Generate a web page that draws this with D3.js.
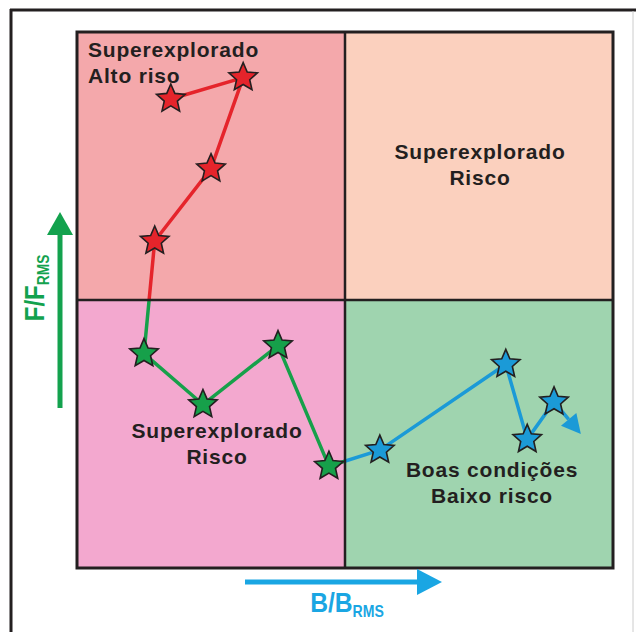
<!DOCTYPE html>
<html>
<head>
<meta charset="utf-8">
<script src="https://cdn.jsdelivr.net/npm/d3@7"></script>
<style>
  body { margin: 0; background: #fff; }
  svg { display: block; font-family: "Liberation Sans", Arial, sans-serif; }
</style>
</head>
<body>
<div id="chart"></div>
<script>
// Trajectory (B/BRMS, F/FRMS), in time order
const bRatio = [0.35, 0.62, 0.50, 0.29, 0.25, 0.47, 0.75, 0.94, 1.13, 1.60, 1.68, 1.78];
const fRatio = [1.75, 1.83, 1.49, 1.22, 0.80, 0.61, 0.83, 0.38, 0.44, 0.76, 0.48, 0.62];
// where the final arrow points to
const arrowEnd = [1.88, 0.50];

// quadrant labels
const quadLabels = [
  { q: "tl", lines: ["Superexplorado", "Alto riso"] },
  { q: "tr", lines: ["Superexplorado", "Risco"] },
  { q: "bl", lines: ["Superexplorado", "Risco"] },
  { q: "br", lines: ["Boas condições", "Baixo risco"] }
];

let w = 636, h = 632;
let svg = d3.select("#chart").append("svg").attr("width", w).attr("height", h);

// plot box
let pLeft = 77, pRight = 613, pTop = 32, pBottom = 568;
let x = d3.scaleLinear().domain([0, 2]).range([pLeft, pRight]);
let y = d3.scaleLinear().domain([0, 2]).range([pBottom, pTop]);
let xm = x(1), ym = y(1);

const ink = "#231f20";
const colors = { tl: "#e5242b", bl: "#16a04a", br: "#1b9ad7" };
const fills = { tl: "#f4a8ab", tr: "#fbd0be", bl: "#f3a8cf", br: "#9fd4af" };

// outer frame
svg.append("line").attr("x1", 11).attr("x2", 11).attr("y1", 9).attr("y2", h).attr("stroke", ink).attr("stroke-width", 3);
svg.append("line").attr("x1", 10).attr("x2", w).attr("y1", 10).attr("y2", 10).attr("stroke", ink).attr("stroke-width", 3);
svg.append("line").attr("x1", 633).attr("x2", 633).attr("y1", 11).attr("y2", h).attr("stroke", "#ccc").attr("stroke-width", 1);

// quadrants
let quads = {
  tl: [pLeft, pTop, xm - pLeft, ym - pTop],
  tr: [xm, pTop, pRight - xm, ym - pTop],
  bl: [pLeft, ym, xm - pLeft, pBottom - ym],
  br: [xm, ym, pRight - xm, pBottom - ym]
};
Object.keys(quads).forEach(k => {
  let r = quads[k];
  svg.append("rect").attr("x", r[0]).attr("y", r[1]).attr("width", r[2]).attr("height", r[3]).attr("fill", fills[k]);
});

let defs = svg.append("defs");
defs.append("clipPath").attr("id", "clip-top")
  .append("rect").attr("x", 0).attr("y", 0).attr("width", w).attr("height", ym);
defs.append("clipPath").attr("id", "clip-blx")
  .append("rect").attr("x", 0).attr("y", ym).attr("width", xm).attr("height", h);
defs.append("clipPath").attr("id", "clip-brx")
  .append("rect").attr("x", xm).attr("y", ym).attr("width", w).attr("height", h);

// quadrant label text
let labelPos = {
  tl: { x: 88, y: 57, anchor: "start" },
  tr: { x: 480, y: 159, anchor: "middle" },
  bl: { x: 217, y: 438, anchor: "middle" },
  br: { x: 492, y: 477, anchor: "middle" }
};
quadLabels.forEach(d => {
  let p = labelPos[d.q];
  let t = svg.append("text").attr("x", p.x).attr("y", p.y).attr("text-anchor", p.anchor)
    .attr("font-size", 21).attr("font-weight", "bold").attr("fill", ink).attr("letter-spacing", 0.8);
  d.lines.forEach((s, i) => {
    t.append("tspan").attr("x", p.x).attr("dy", i === 0 ? 0 : 26).text(s);
  });
});

// trajectory
let pts = bRatio.map((b, i) => [b, fRatio[i]]);
let quadOf = d => d[1] >= 1 ? "tl" : (d[0] < 1 ? "bl" : "br");
let line = d3.line().x(d => x(d[0])).y(d => y(d[1]));

// arrow end: stop the line at the base of the head
let last = pts[pts.length - 1];
let ex = x(arrowEnd[0]), ey = y(arrowEnd[1]);
let lx = x(last[0]), ly = y(last[1]);
let ang = Math.atan2(ey - ly, ex - lx);
let headLen = 19, headW = 10;
let base = [ex - headLen * Math.cos(ang), ey - headLen * Math.sin(ang)];
let full = pts.concat([[x.invert(base[0]), y.invert(base[1])]]);

let lines = svg.append("g").attr("fill", "none").attr("stroke-width", 3.5).attr("stroke-linejoin", "round");
lines.append("path").attr("d", line(full)).attr("stroke", colors.tl).attr("clip-path", "url(#clip-top)");
lines.append("path").attr("d", line(full)).attr("stroke", colors.bl).attr("clip-path", "url(#clip-blx)");
lines.append("path").attr("d", line(full)).attr("stroke", colors.br).attr("clip-path", "url(#clip-brx)");

// arrow head
let px = -Math.sin(ang), py = Math.cos(ang);
svg.append("path")
  .attr("d", `M${ex},${ey}L${base[0] + headW * px},${base[1] + headW * py}L${base[0] - headW * px},${base[1] - headW * py}Z`)
  .attr("fill", colors.br);

// grid borders
svg.append("rect").attr("x", pLeft).attr("y", pTop).attr("width", pRight - pLeft).attr("height", pBottom - pTop)
  .attr("fill", "none").attr("stroke", ink).attr("stroke-width", 3);
svg.append("line").attr("x1", xm).attr("x2", xm).attr("y1", pTop).attr("y2", pBottom).attr("stroke", ink).attr("stroke-width", 2.5);
svg.append("line").attr("x1", pLeft).attr("x2", pRight).attr("y1", ym).attr("y2", ym).attr("stroke", ink).attr("stroke-width", 2.5);

// stars: chunkier five-point star than d3.symbolStar
const fatStar = {
  draw(context, size) {
    let R = Math.sqrt(size), r = R * 0.46;
    for (let i = 0; i < 10; i++) {
      let a = -Math.PI / 2 + i * Math.PI / 5;
      let rr = i % 2 ? r : R;
      if (i === 0) context.moveTo(rr * Math.cos(a), rr * Math.sin(a));
      else context.lineTo(rr * Math.cos(a), rr * Math.sin(a));
    }
    context.closePath();
  }
};
let star = d3.symbol().type(fatStar).size(225);
svg.append("g").selectAll("path").data(pts).enter().append("path")
  .attr("d", star)
  .attr("transform", d => `translate(${x(d[0])},${y(d[1])})`)
  .attr("fill", d => colors[quadOf(d)])
  .attr("stroke", ink).attr("stroke-width", 1.6).attr("stroke-linejoin", "miter");

// Y axis arrow (green)
let green = "#13a24e";
svg.append("line").attr("x1", 60).attr("x2", 60).attr("y1", 408).attr("y2", 232).attr("stroke", green).attr("stroke-width", 5);
svg.append("path").attr("d", "M60,212L73,235L47,235Z").attr("fill", green);
let yl = svg.append("text").attr("transform", "translate(44,288) rotate(-90) scale(0.86,1)").attr("text-anchor", "middle")
  .attr("font-size", 28).attr("font-weight", "bold").attr("fill", green);
yl.append("tspan").text("F/F");
yl.append("tspan").attr("font-size", 16).attr("dy", 5).text("RMS");

// X axis arrow (blue)
let blue = "#1aa6e3";
svg.append("line").attr("x1", 245).attr("x2", 420).attr("y1", 582).attr("y2", 582).attr("stroke", blue).attr("stroke-width", 5);
svg.append("path").attr("d", "M442,582L417,569L417,595Z").attr("fill", blue);
let xl = svg.append("text").attr("transform", "translate(347,612) scale(0.88,1)").attr("text-anchor", "middle")
  .attr("font-size", 28).attr("font-weight", "bold").attr("fill", blue);
xl.append("tspan").text("B/B");
xl.append("tspan").attr("font-size", 16).attr("dy", 5).text("RMS");
</script>
</body>
</html>
